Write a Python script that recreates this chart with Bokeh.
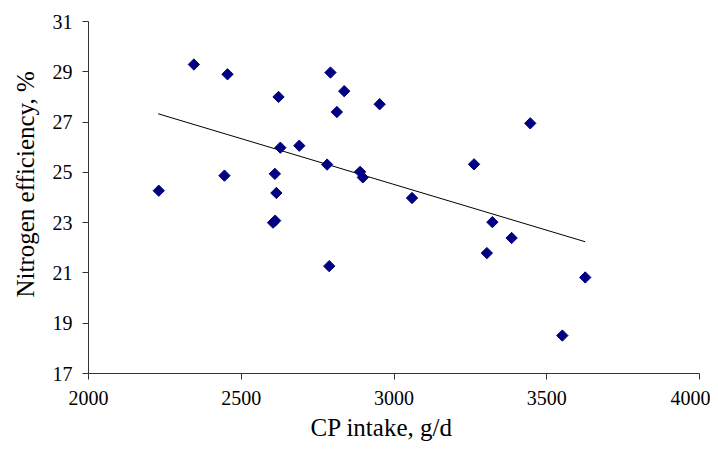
import math
from bokeh.plotting import figure
from bokeh.models import Range1d, FixedTicker, ColumnDataSource, Title
from bokeh.embed import file_html
from bokeh.resources import INLINE

cp_intake = [2230, 2345, 2455, 2445, 2622, 2628, 2610, 2615, 2604, 2611,
             2690, 2792, 2837, 2813, 2781, 2889, 2898, 2953, 3446, 3262,
             3059, 3322, 3385, 3304, 3626, 3551, 2788]
n_eff = [24.27, 29.29, 28.90, 24.87, 28.00, 25.98, 24.94, 24.18, 23.00, 23.08,
         26.06, 28.97, 28.23, 27.40, 25.31, 25.02, 24.80, 27.71, 26.95, 25.32,
         23.98, 23.02, 22.39, 21.79, 20.82, 18.51, 21.27]

trend_x = [2228, 3626]
trend_y = [27.33, 22.24]

x_ticks = [2000, 2500, 3000, 3500, 4000]
y_ticks = [17, 19, 21, 23, 25, 27, 29, 31]

x_title = "CP intake, g/d"
y_title = "Nitrogen efficiency, %"

FONT = "Liberation Serif"

p = figure(width=710, height=450, output_backend="svg", toolbar_location=None,
           x_range=Range1d(2000, 4000), y_range=Range1d(17, 31),
           min_border_left=88, min_border_right=11, min_border_top=21,
           min_border_bottom=77)
p.outline_line_color = None
p.xgrid.grid_line_color = None
p.ygrid.grid_line_color = None

p.line(trend_x, trend_y, line_color="black", line_width=1)
src = ColumnDataSource(dict(x=cp_intake, y=n_eff))
p.scatter("x", "y", source=src, marker="square", angle=math.pi / 4, size=8,
          fill_color="#000080", line_color="#000080")

for ax in (p.xaxis[0], p.yaxis[0]):
    ax.axis_line_color = "#333333"
    ax.major_tick_line_color = "#333333"
    ax.major_tick_in = 0
    ax.major_tick_out = 6
    ax.minor_tick_line_color = None
    ax.major_label_text_font = FONT
    ax.major_label_text_font_size = "20px"
    ax.major_label_text_color = "black"

p.xaxis.ticker = FixedTicker(ticks=x_ticks)
p.yaxis.ticker = FixedTicker(ticks=y_ticks)
p.xaxis.major_label_standoff = 11
p.yaxis.major_label_standoff = 10

# axis titles, positioned like the original's chart-area centred titles
p.add_layout(Title(text=x_title, text_font=FONT, text_font_size="25px",
                   text_font_style="normal", text_color="black",
                   align="left", offset=222, standoff=8,
                   vertical_align="bottom"), "below")
p.add_layout(Title(text=y_title, text_font=FONT, text_font_size="25px",
                   text_font_style="normal", text_color="black",
                   align="left", offset=76, standoff=20,
                   vertical_align="middle"), "left")

open("out.html", "w").write(file_html(p, INLINE))
